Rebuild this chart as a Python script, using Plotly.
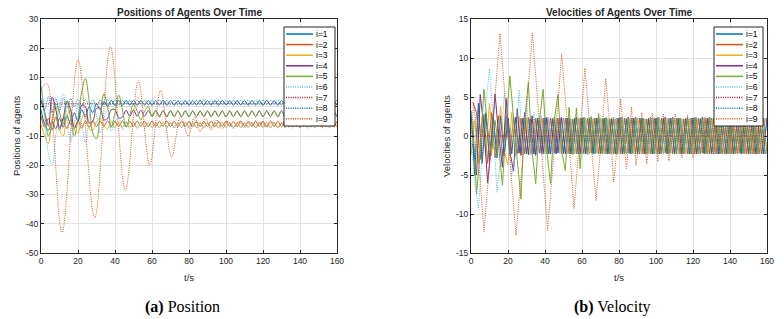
import plotly.graph_objects as go

# the page body adds an 8 px margin, so the figure is sized to the visible area
OFFSET = 8
W, H = 784 - OFFSET, 319 - OFFSET

# ---------------- data ----------------
AGENTS = ["i=1", "i=2", "i=3", "i=4", "i=5", "i=6", "i=7", "i=8", "i=9"]
COLORS = ["#0072BD", "#D95319", "#EDB120", "#7E2F8E", "#77AC30",
          "#4DBEEE", "#A2142F", "#0072BD", "#D95319"]
DASHES = ["solid", "solid", "solid", "solid", "solid",
          "1px,1.3px", "1px,1.3px", "1px,1.3px", "1px,1.3px"]

X_TICKS = [0, 20, 40, 60, 80, 100, 120, 140, 160]
X_TICK_TEXT = ["0", "20", "40", "60", "80", "100", "120", "140", "160"]
POS_TICKS = [-50, -40, -30, -20, -10, 0, 10, 20, 30]
POS_TICK_TEXT = ["-50", "-40", "-30", "-20", "-10", "0", "10", "20", "30"]
VEL_TICKS = [-15, -10, -5, 0, 5, 10, 15]
VEL_TICK_TEXT = ["-15", "-10", "-5", "0", "5", "10", "15"]

# sample times (s)
T_GRID_A = list(range(0, 161, 2))   # 0,2,...,160
T_GRID_B = list(range(1, 160, 2))   # 1,3,...,159

# ---- positions (on T_GRID_A) ----
pos_1 = [-1.0, -6.0, -8.0, -5.0, -7.5, -4.0, -7.0, -3.0, -6.0, -2.0,
         -5.0, -1.0, -3.5, 0.0, -2.0, 1.0, -1.0, 1.8, 0.0, 2.2,
         0.4, 2.2, 0.5, 2.1, 0.6, 2.2, 0.5, 2.1, 0.6, 2.1,
         0.5, 2.1, 0.6, 2.2, 0.5, 2.1, 0.6, 2.0, 0.6, 2.1,
         0.5, 2.1, 0.6, 2.2, 0.5, 2.1, 0.6, 2.1, 0.5, 2.2,
         0.6, 2.1, 0.5, 2.1, 0.6, 2.2, 0.5, 2.1, 0.6, 2.1,
         0.5, 2.2, 0.6, 2.1, 0.5, 2.1, 0.6, 2.2, 0.5, 2.1,
         0.6, 2.1, 0.5, 2.2, 0.6, 2.1, 0.5, 2.1, 0.6, 2.2,
         0.5]
pos_2 = [-3.0, -7.0, -4.0, -8.0, -3.5, -8.0, -4.0, -7.5, -4.5, -7.5,
         -4.8, -7.3, -4.9, -7.0, -4.9, -6.8, -5.0, -6.7, -4.9, -6.7,
         -5.0, -6.7, -4.9, -6.8, -5.0, -6.7, -4.9, -6.7, -5.0, -6.8,
         -4.9, -6.7, -5.0, -6.7, -4.9, -6.8, -5.0, -6.7, -4.9, -6.7,
         -5.0, -6.8, -4.9, -6.7, -5.0, -6.7, -4.9, -6.8, -5.0, -6.7,
         -4.9, -6.7, -5.0, -6.8, -4.9, -6.7, -5.0, -6.7, -4.9, -6.8,
         -5.0, -6.7, -4.9, -6.7, -5.0, -6.8, -4.9, -6.7, -5.0, -6.7,
         -4.9, -6.8, -5.0, -6.7, -4.9, -6.7, -5.0, -6.8, -4.9, -6.7,
         -5.0]
pos_3 = [-6.0, -10.0, -12.5, -4.0, 0.0, -8.0, -10.0, -3.0, -1.0, -8.0,
         -9.0, -4.0, -2.5, -7.5, -8.0, -5.0, -4.0, -6.5, -7.5, -5.0,
         -7.1, -5.3, -7.0, -5.4, -7.0, -5.4, -7.1, -5.3, -7.0, -5.4,
         -7.0, -5.4, -7.1, -5.3, -7.0, -5.4, -7.0, -5.4, -7.1, -5.3,
         -7.0, -5.4, -7.1, -5.3, -7.0, -5.4, -7.0, -5.4, -7.1, -5.3,
         -7.0, -5.4, -7.1, -5.3, -7.0, -5.4, -7.0, -5.4, -7.1, -5.3,
         -7.0, -5.4, -7.1, -5.3, -7.0, -5.4, -7.0, -5.4, -7.1, -5.3,
         -7.0, -5.4, -7.1, -5.3, -7.0, -5.4, -7.0, -5.4, -7.1, -5.3,
         -7.0]
pos_4 = [2.4, -2.0, -6.5, 3.2, -1.0, -7.0, -4.0, 2.0, -1.0, -7.0,
         -5.0, 0.5, 0.0, -5.5, -5.0, -0.5, -0.5, -4.5, -4.0, -1.0,
         -1.0, -3.8, -3.5, -1.2, -3.3, -1.1, -3.2, -1.2, -3.2, -1.3,
         -3.1, -1.3, -3.2, -1.4, -3.2, -1.4, -3.3, -1.4, -3.3, -1.4,
         -3.4, -1.4, -3.4, -1.4, -3.4, -1.4, -3.4, -1.4, -3.4, -1.4,
         -3.4, -1.4, -3.4, -1.4, -3.4, -1.4, -3.4, -1.4, -3.4, -1.4,
         -3.4, -1.4, -3.4, -1.4, -3.4, -1.4, -3.4, -1.4, -3.4, -1.4,
         -3.4, -1.4, -3.4, -1.4, -3.4, -1.4, -3.4, -1.4, -3.4, -1.4,
         -3.4]
pos_5 = [7.0, -2.0, -10.0, -6.0, 1.0, -2.0, -6.0, 2.0, -4.0, -10.0,
         -4.0, 5.0, 9.7, 2.0, -9.0, -11.0, -3.0, 4.5, 0.0, -7.0,
         -2.0, 4.0, -1.0, -7.0, -3.0, 1.0, -1.5, -4.5, -1.5, 0.0,
         -3.5, -1.2, -3.6, -1.3, -3.5, -1.4, -3.4, -1.4, -3.4, -1.4,
         -3.4, -1.4, -3.4, -1.4, -3.4, -1.4, -3.4, -1.4, -3.4, -1.4,
         -3.4, -1.4, -3.4, -1.4, -3.4, -1.4, -3.4, -1.4, -3.4, -1.4,
         -3.4, -1.4, -3.4, -1.4, -3.4, -1.4, -3.4, -1.4, -3.4, -1.4,
         -3.4, -1.4, -3.4, -1.4, -3.4, -1.4, -3.4, -1.4, -3.4, -1.4,
         -3.4]
pos_6 = [9.0, -5.0, -16.0, -19.8, -10.0, 0.0, 4.4, -4.0, -12.0, -6.0,
         1.0, -6.0, -12.3, -4.0, 1.5, -3.0, -9.0, -4.0, -1.0, -8.5,
         -5.0, -4.0, -8.0, -5.0, -7.5, -5.4, -7.4, -5.5, -7.3, -5.5,
         -7.3, -5.5, -7.3, -5.6, -7.2, -5.5, -7.3, -5.6, -7.2, -5.5,
         -7.3, -5.6, -7.2, -5.5, -7.3, -5.6, -7.2, -5.5, -7.3, -5.6,
         -7.2, -5.5, -7.3, -5.6, -7.2, -5.5, -7.3, -5.6, -7.2, -5.5,
         -7.3, -5.6, -7.2, -5.5, -7.3, -5.6, -7.2, -5.5, -7.3, -5.6,
         -7.2, -5.5, -7.3, -5.6, -7.2, -5.5, -7.3, -5.6, -7.2, -5.5,
         -7.3]
pos_7_t = [0, 160]
pos_7 = [1.0, 1.0]
pos_8 = [3.0, -1.0, 3.5, -2.0, 3.0, -1.5, 3.0, -0.5, 2.8, 0.0,
         2.6, 0.3, 2.5, 0.5, 2.4, 0.6, 2.3, 0.7, 2.3, 0.7,
         2.3, 0.7, 2.2, 0.8, 2.3, 0.7, 2.2, 0.8, 2.3, 0.7,
         2.2, 0.8, 2.3, 0.7, 2.2, 0.8, 2.3, 0.7, 2.2, 0.8,
         2.3, 0.7, 2.2, 0.8, 2.3, 0.7, 2.2, 0.8, 2.3, 0.7,
         2.2, 0.8, 2.3, 0.7, 2.2, 0.8, 2.3, 0.7, 2.2, 0.8,
         2.3, 0.7, 2.2, 0.8, 2.3, 0.7, 2.2, 0.8, 2.3, 0.7,
         2.2, 0.8, 2.3, 0.7, 2.2, 0.8, 2.3, 0.7, 2.2, 0.8,
         2.3]
pos_9_t = [0, 3.2, 11.3, 20, 29, 37.5, 45.6, 52.6, 58.8, 64.6,
           70.6, 75.5, 79.6, 83, 86, 89, 92, 95, 98, 101,
           104, 107, 110, 113, 116, 119, 122, 125, 128, 131,
           134, 137, 140, 143, 146, 149, 152, 155, 158, 160]
pos_9 = [5.5, 8.0, -43.0, 16.0, -38.0, 20.5, -28.5, 8.8, -20.0, 5.6,
         -17.2, -3.3, -10.0, -3.5, -8.5, -4.0, -8.0, -4.5, -7.5, -5.0,
         -7.3, -5.0, -7.2, -5.1, -7.1, -5.2, -7.0, -5.2, -7.0, -5.3,
         -6.9, -5.2, -7.0, -5.3, -6.9, -5.2, -7.0, -5.3, -6.9, -6.0]

# ---- velocities ----
vel_1 = [3.2, -5.0, 4.2, -3.5, 3.0, -3.2, 2.8, -2.8, 2.6, -2.5,
         2.3, -2.3, 2.4, -2.2, 2.3, -2.3, 2.2, -2.3, 2.3, -2.2,
         2.3, -2.3, 2.2, -2.3, 2.3, -2.2, 2.3, -2.3, 2.2, -2.3,
         2.3, -2.3, 2.2, -2.3, 2.3, -2.2, 2.3, -2.3, 2.2, -2.3,
         2.3, -2.3, 2.2, -2.3, 2.3, -2.2, 2.3, -2.3, 2.2, -2.3,
         2.3, -2.3, 2.2, -2.3, 2.3, -2.2, 2.3, -2.3, 2.2, -2.3,
         2.3, -2.3, 2.2, -2.3, 2.3, -2.2, 2.3, -2.3, 2.2, -2.3,
         2.3, -2.3, 2.2, -2.3, 2.3, -2.2, 2.3, -2.3, 2.2, -2.3,
         2.3]
vel_2 = [4.3, 3.0, -3.0, 2.8, -3.5, 3.0, -2.8, 2.6, -2.6, 2.5,
         -2.4, 2.4, -2.3, 2.3, -2.3, 2.4, -2.3, 2.3, -2.2, 2.3,
         -2.3, 2.3, -2.2, 2.3, -2.3, 2.3, -2.3, 2.2, -2.3, 2.3,
         -2.3, 2.3, -2.2, 2.3, -2.3, 2.3, -2.3, 2.2, -2.3, 2.3,
         -2.3, 2.3, -2.2, 2.3, -2.3, 2.3, -2.3, 2.2, -2.3, 2.3,
         -2.3, 2.3, -2.2, 2.3, -2.3, 2.3, -2.3, 2.2, -2.3, 2.3,
         -2.3, 2.3, -2.2, 2.3, -2.3, 2.3, -2.3, 2.2, -2.3, 2.3,
         -2.3, 2.3, -2.2, 2.3, -2.3, 2.3, -2.3, 2.2, -2.3, 2.3]
vel_3 = [-2.5, 2.0, -3.5, 2.5, -2.0, 4.2, -1.5, -2.5, 3.8, -2.0,
         -3.7, 3.0, -2.6, 2.5, -2.4, 2.3, -2.3, 2.2, -2.2, 2.3,
         -2.2, 2.2, -2.3, 2.2, -2.2, 2.3, -2.2, 2.2, -2.3, 2.2,
         -2.2, 2.2, -2.3, 2.2, -2.2, 2.3, -2.2, 2.2, -2.3, 2.2,
         -2.2, 2.2, -2.3, 2.2, -2.2, 2.3, -2.2, 2.2, -2.3, 2.2,
         -2.2, 2.2, -2.3, 2.2, -2.2, 2.3, -2.2, 2.2, -2.3, 2.2,
         -2.2, 2.2, -2.3, 2.2, -2.2, 2.3, -2.2, 2.2, -2.3, 2.2,
         -2.2, 2.2, -2.3, 2.2, -2.2, 2.3, -2.2, 2.2, -2.3, 2.2,
         -2.2]
vel_4 = [-1.0, -5.0, 5.3, 1.0, -6.0, -1.0, 5.4, 0.0, -4.0, 4.8,
         -2.0, -4.5, 3.5, -2.5, 3.0, -2.4, 2.6, -2.5, 2.4, -2.3,
         2.4, -2.3, 2.4, -2.2, 2.4, -2.3, 2.3, -2.3, 2.4, -2.3,
         2.4, -2.3, 2.4, -2.2, 2.4, -2.3, 2.3, -2.3, 2.4, -2.3,
         2.4, -2.3, 2.4, -2.2, 2.4, -2.3, 2.3, -2.3, 2.4, -2.3,
         2.4, -2.3, 2.4, -2.2, 2.4, -2.3, 2.3, -2.3, 2.4, -2.3,
         2.4, -2.3, 2.4, -2.2, 2.4, -2.3, 2.3, -2.3, 2.4, -2.3,
         2.4, -2.3, 2.4, -2.2, 2.4, -2.3, 2.3, -2.3, 2.4, -2.3]
vel_5 = [2.0, -7.4, -2.0, 6.0, 1.0, -2.5, 2.0, -1.5, -6.3, 1.5,
         7.7, 2.0, -3.0, -8.1, 2.0, 6.9, -2.0, -6.1, 2.0, 6.0,
         -2.0, -6.1, 2.0, 5.3, -2.0, -4.4, 3.7, -2.4, 3.6, -4.2,
         2.4, -2.4, 2.5, -2.3, 2.9, -2.3, 2.4, -2.3, 2.4, -2.3,
         2.3, -2.3, 2.2, -2.3, 2.3, -2.2, 2.3, -2.3, 2.3, -2.3,
         2.3, -2.3, 2.2, -2.3, 2.3, -2.2, 2.3, -2.3, 2.3, -2.3,
         2.3, -2.3, 2.2, -2.3, 2.3, -2.2, 2.3, -2.3, 2.3, -2.3,
         2.3, -2.3, 2.2, -2.3, 2.3, -2.2, 2.3, -2.3, 2.3, -2.3]
vel_6 = [0.0, -6.0, -9.3, -3.0, 4.0, 8.6, 2.0, -7.2, -3.0, 5.7,
         1.0, -5.0, -2.5, 5.9, -2.0, 4.5, -2.5, 3.0, -2.4, 2.6,
         -2.3, 2.4, -2.3, 2.3, -2.2, 2.3, -2.3, 2.2, -2.2, 2.3,
         -2.3, 2.4, -2.3, 2.3, -2.2, 2.3, -2.3, 2.2, -2.2, 2.3,
         -2.3, 2.4, -2.3, 2.3, -2.2, 2.3, -2.3, 2.2, -2.2, 2.3,
         -2.3, 2.4, -2.3, 2.3, -2.2, 2.3, -2.3, 2.2, -2.2, 2.3,
         -2.3, 2.4, -2.3, 2.3, -2.2, 2.3, -2.3, 2.2, -2.2, 2.3,
         -2.3, 2.4, -2.3, 2.3, -2.2, 2.3, -2.3, 2.2, -2.2, 2.3,
         -2.3]
vel_7_t = [0, 160]
vel_7 = [0.0, 0.0]
vel_8 = [2.5, -3.0, 3.4, -3.0, 2.8, -2.6, 2.5, -2.5, 2.4, -2.4,
         2.3, -2.3, 2.3, -2.2, 2.3, -2.3, 2.2, -2.3, 2.3, -2.3,
         2.3, -2.3, 2.3, -2.2, 2.3, -2.3, 2.2, -2.3, 2.3, -2.3,
         2.3, -2.3, 2.3, -2.2, 2.3, -2.3, 2.2, -2.3, 2.3, -2.3,
         2.3, -2.3, 2.3, -2.2, 2.3, -2.3, 2.2, -2.3, 2.3, -2.3,
         2.3, -2.3, 2.3, -2.2, 2.3, -2.3, 2.2, -2.3, 2.3, -2.3,
         2.3, -2.3, 2.3, -2.2, 2.3, -2.3, 2.2, -2.3, 2.3, -2.3,
         2.3, -2.3, 2.3, -2.2, 2.3, -2.3, 2.2, -2.3, 2.3, -2.3,
         2.3]
vel_9_t = [0, 1.5, 3.2, 7, 11.3, 15.7, 20, 24.3, 29, 33.2,
           37.5, 41.4, 45.6, 49, 52.6, 55.7, 58.8, 61.6, 64.6, 67.6,
           70.6, 72.8, 75.5, 77.1, 79.6, 80.9, 82.5, 84, 85.5, 86.7,
           88, 89.2, 91, 92.3, 95, 98, 101, 104, 107, 110.5,
           114, 117, 120, 122, 124, 126, 128, 130, 132, 134,
           136, 138, 140, 142, 144, 146, 148, 150, 152, 154,
           156, 158, 160]
vel_9 = [0.0, 4.3, 0.0, -12.3, 0.0, 13.2, 0.0, -12.7, 0.0, 13.2,
         0.0, -12.1, 0.0, 10.5, 0.0, -9.3, 0.0, 8.7, 0.0, -8.3,
         0.0, 7.4, 0.0, -5.9, 0.0, 4.8, 0.0, -4.2, 0.0, 3.7,
         0.0, -3.8, 0.0, 3.0, -3.6, 2.9, -3.3, 2.9, -3.2, 2.8,
         -2.8, 2.7, -2.8, 2.3, -2.3, 2.4, -2.3, 2.3, -2.3, 2.3,
         -2.2, 2.3, -2.3, 2.3, -2.3, 2.2, -2.3, 2.3, -2.3, 2.3,
         -2.2, 2.3, -2.3]

POS_T = [T_GRID_A, T_GRID_A, T_GRID_A, T_GRID_A, T_GRID_A, T_GRID_A, pos_7_t, T_GRID_A, pos_9_t]
POS_V = [pos_1, pos_2, pos_3, pos_4, pos_5, pos_6, pos_7, pos_8, pos_9]
VEL_T = [T_GRID_A, T_GRID_B, T_GRID_A, T_GRID_B, T_GRID_B, T_GRID_A, vel_7_t, T_GRID_A, vel_9_t]
VEL_V = [vel_1, vel_2, vel_3, vel_4, vel_5, vel_6, vel_7, vel_8, vel_9]

# ---------------- layout helpers (screen pixels -> paper fractions) ----------------
def px(x):
    return (x - OFFSET) / W

def py(y):
    return 1 - (y - OFFSET) / H

LEFT = (41, 337)
RIGHT = (471, 767)
TOP, BOTTOM = 19, 253
FONT = "Liberation Sans"
INK = "#262626"

fig = go.Figure()

for k in range(9):
    fig.add_trace(go.Scatter(
        x=POS_T[k], y=POS_V[k], mode="lines", name=AGENTS[k],
        line=dict(color=COLORS[k], dash=DASHES[k], width=1, shape="spline", smoothing=1),
        showlegend=False, xaxis="x", yaxis="y", hoverinfo="skip"))
for k in range(9):
    fig.add_trace(go.Scatter(
        x=VEL_T[k], y=VEL_V[k], mode="lines", name=AGENTS[k],
        line=dict(color=COLORS[k], dash=DASHES[k], width=1),
        showlegend=False, xaxis="x2", yaxis="y2", hoverinfo="skip"))

axis_common = dict(
    showline=True, linecolor=INK, linewidth=1, mirror="ticks",
    ticks="inside", ticklen=3, tickcolor=INK, tickwidth=1,
    showgrid=True, gridcolor="#e1e1e1", gridwidth=1, zeroline=False,
    automargin=False,
    tickfont=dict(family=FONT, size=8.5, color=INK),
)

fig.update_layout(
    template="none",
    width=W, height=H,
    margin=dict(l=0, r=0, t=0, b=0, pad=0),
    paper_bgcolor="white", plot_bgcolor="white",
    showlegend=False,
    xaxis=dict(domain=[px(LEFT[0]), px(LEFT[1])], range=[0, 160], anchor="y",
               tickvals=X_TICKS, ticktext=X_TICK_TEXT, **axis_common),
    yaxis=dict(domain=[py(BOTTOM), py(TOP)], range=[-50, 30], anchor="x",
               tickvals=POS_TICKS, ticktext=POS_TICK_TEXT, **axis_common),
    xaxis2=dict(domain=[px(RIGHT[0]), px(RIGHT[1])], range=[0, 160], anchor="y2",
                tickvals=X_TICKS, ticktext=X_TICK_TEXT, **axis_common),
    yaxis2=dict(domain=[py(BOTTOM), py(TOP)], range=[-15, 15], anchor="x2",
                tickvals=VEL_TICKS, ticktext=VEL_TICK_TEXT, **axis_common),
)

annotations = []
shapes = []

def text(x, y, s, size, family=FONT, angle=0, xanchor="center", color=INK):
    annotations.append(dict(
        x=px(x), y=py(y), xref="paper", yref="paper", text=s, showarrow=False,
        xanchor=xanchor, yanchor="middle", textangle=angle,
        font=dict(family=family, size=size, color=color)))

# titles
text(189, 12.5, "<b>Positions of Agents Over Time</b>", 10)
text(619, 12.5, "<b>Velocities of Agents Over Time</b>", 10)
# axis labels
text(189, 277, "t/s", 9.5)
text(619, 277, "t/s", 9.5)
text(16, 136, "Positions of agents", 9.5, angle=-90)
text(446, 136, "Velocities of agents", 9.5, angle=-90)
# captions
text(182, 307, "<b>(a)</b> Position", 16, family="Liberation Serif", color="black")
text(612, 307, "<b>(b)</b> Velocity", 16, family="Liberation Serif", color="black")

# legends
for bx0, bx1 in [(284, 335), (714, 763)]:
    shapes.append(dict(type="rect", xref="paper", yref="paper", layer="above",
                       x0=px(bx0), x1=px(bx1), y0=py(126), y1=py(27),
                       line=dict(color=INK, width=1), fillcolor="white"))
    for k in range(9):
        yy = 34 + 10.6 * k
        shapes.append(dict(type="line", xref="paper", yref="paper", layer="above",
                           x0=px(bx0 + 2), x1=px(bx0 + 29), y0=py(yy), y1=py(yy),
                           line=dict(color=COLORS[k], dash=DASHES[k], width=1.5)))
        text(bx0 + 30, yy, AGENTS[k], 8.5, xanchor="left", color="black")

fig.update_layout(annotations=annotations, shapes=shapes)
fig.write_html("out.html")
